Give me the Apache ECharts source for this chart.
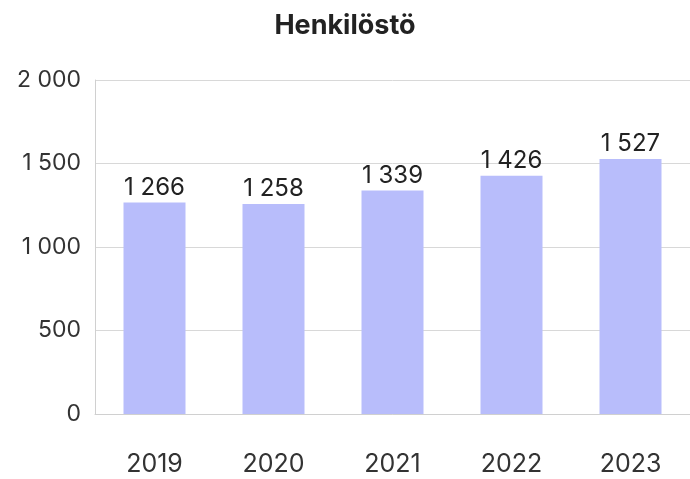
<!DOCTYPE html>
<html>
<head>
<meta charset="utf-8">
<script src="https://cdn.jsdelivr.net/npm/echarts@6/dist/echarts.min.js"></script>
<style>
  html, body { margin: 0; padding: 0; background: #fff; }
  #chart { width: 690px; height: 479px; }
</style>
</head>
<body>
<div id="chart"></div>
<script>
// data
const years = ['2019', '2020', '2021', '2022', '2023'];
const staff = [1266, 1258, 1339, 1426, 1527];

// thousands separated by a space, like the report
function fmt(v) {
  return String(v).replace(/\B(?=(\d{3})+(?!\d))/g, ' ');
}

const font = 'Inter, "Noto Sans", sans-serif';

echarts.init(document.getElementById('chart')).setOption({
  animation: false,
  title: {
    text: 'Henkilöstö',
    left: 'center',
    top: 7,
    textStyle: { fontFamily: font, fontSize: 27, fontWeight: 'bold', color: '#222' }
  },
  grid: { left: 95, right: 0, top: 80, bottom: 65 },
  xAxis: {
    type: 'category',
    data: years,
    axisLine: { lineStyle: { color: '#d0d0d0' } },
    axisTick: { show: false },
    axisLabel: { fontFamily: font, fontSize: 25, color: '#333', margin: 38 }
  },
  yAxis: {
    type: 'value',
    min: 0,
    max: 2000,
    interval: 500,
    axisLine: { show: true, lineStyle: { color: '#d0d0d0' } },
    splitLine: { lineStyle: { color: '#d8d8d8' } },
    axisLabel: { fontFamily: font, fontSize: 23, color: '#333', margin: 14, formatter: fmt }
  },
  series: [{
    type: 'bar',
    data: staff,
    barWidth: 62,
    itemStyle: { color: '#b8bdfb' },
    label: {
      show: true,
      position: 'top',
      distance: 3,
      fontFamily: font,
      fontSize: 24,
      color: '#222',
      formatter: p => fmt(p.value)
    }
  }]
});
</script>
</body>
</html>
